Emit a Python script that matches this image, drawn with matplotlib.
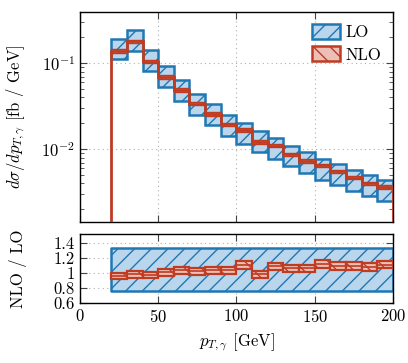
import numpy as np
import matplotlib
matplotlib.use("Agg")
import matplotlib.pyplot as plt
from matplotlib.patches import Patch

plt.rcParams.update({
    "font.family": "serif",
    "font.serif": ["cmr10", "DejaVu Serif"],
    "mathtext.fontset": "cm",
    "axes.formatter.use_mathtext": True,
    "axes.unicode_minus": False,
    "hatch.linewidth": 1.0,
})

# bin edges of the p_T,gamma histogram (GeV)
bin_edges = [20, 30, 40, 50, 60, 70, 80, 90, 100, 110,
             120, 130, 140, 150, 160, 170, 180, 190, 200]

# LO central value (fb/GeV) and relative scale band
lo = [0.145, 0.183, 0.107, 0.069, 0.0474, 0.033, 0.0249, 0.0188, 0.0151,
      0.0123, 0.0101, 0.00824, 0.0069, 0.0058, 0.00503, 0.00426, 0.00372, 0.00326]
lo_rel_up = [1.333] * 18
lo_rel_dn = [0.765] * 18

# NLO central value (fb/GeV) and relative scale band
nlo = [0.139, 0.180, 0.1045, 0.0696, 0.0491, 0.0339, 0.0258, 0.01946, 0.01669,
       0.01212, 0.01101, 0.00875, 0.00733, 0.0065, 0.00552, 0.00467, 0.00402, 0.00363]
nlo_rel_up = [1.045] * 18
nlo_rel_dn = [0.955] * 18

edges = np.array(bin_edges, dtype=float)
lefts = edges[:-1]
widths = np.diff(edges)
lo = np.array(lo)
nlo = np.array(nlo)
lo_up = lo * np.array(lo_rel_up)
lo_dn = lo * np.array(lo_rel_dn)
nlo_up = nlo * np.array(nlo_rel_up)
nlo_dn = nlo * np.array(nlo_rel_dn)

blue = "#1f77b4"
blue_fill = "#b9d6ec"
red = "#bf3b22"
red_fill = "#ecc0b6"

fig = plt.figure(figsize=(4.08, 3.63), dpi=100)
ax = fig.add_axes([0.196, 0.388, 0.767, 0.579])
ax2 = fig.add_axes([0.196, 0.164, 0.767, 0.191])

# main panel
ax.bar(lefts, lo_up - lo_dn, bottom=lo_dn, width=widths, align="edge",
       facecolor=blue_fill, edgecolor=blue, hatch="//", linewidth=1.8, zorder=2)
ax.bar(lefts, nlo_up - nlo_dn, bottom=nlo_dn, width=widths, align="edge",
       facecolor=red_fill, edgecolor=red, hatch="\\\\", linewidth=1.0, zorder=3)
ax.stairs(nlo, edges, baseline=1e-6, color=red, linewidth=2.0, zorder=4)

ax.set_yscale("log")
ax.set_xlim(0, 200)
ax.set_ylim(1.42e-3, 0.395)
ax.set_ylabel(r"$d\sigma/dp_{T,\gamma}$ [fb / GeV]", fontsize=12)
ax.tick_params(labelbottom=False)

leg_handles = [
    Patch(facecolor=blue_fill, edgecolor=blue, hatch="//", linewidth=1.8),
    Patch(facecolor=red_fill, edgecolor=red, hatch="\\\\", linewidth=1.8),
]
ax.legend(leg_handles, ["LO", "NLO"], loc="upper right", frameon=False,
          fontsize=12, handlelength=1.7, handleheight=1.0,
          borderaxespad=0.3, labelspacing=0.4, handletextpad=0.3)

# ratio panel
ratio_up = np.append(lo_up / lo, lo_up[-1] / lo[-1])
ratio_dn = np.append(lo_dn / lo, lo_dn[-1] / lo[-1])
ax2.fill_between(edges, ratio_dn, ratio_up, step="post",
                 facecolor=blue_fill, edgecolor=blue, hatch="//",
                 linewidth=1.8, zorder=2)
ax2.bar(lefts, (nlo_up - nlo_dn) / lo, bottom=nlo_dn / lo, width=widths,
        align="edge", facecolor=red_fill, edgecolor=red, hatch="\\\\",
        linewidth=1.6, zorder=3)
ax2.stairs(nlo / lo, edges, baseline=None, color=red, linewidth=1.2, zorder=4)

ax2.set_xlim(0, 200)
ax2.set_ylim(0.595, 1.52)
ax2.set_yticks([0.6, 0.8, 1.0, 1.2, 1.4])
ax2.set_yticklabels(["0.6", "0.8", "1", "1.2", "1.4"])
ax2.set_xticks([0, 50, 100, 150, 200])
ax2.set_ylabel("NLO / LO", fontsize=12)
ax2.set_xlabel(r"$p_{T,\gamma}$ [GeV]", fontsize=12)

for a in (ax, ax2):
    a.set_xticks([0, 50, 100, 150, 200])
    a.grid(True, which="major", linestyle=(0, (1, 3)), color="#b0b0b0",
           linewidth=0.8, zorder=0)
    a.tick_params(which="both", direction="in", top=True, right=True,
                  labelsize=12, color="#444444")
    a.tick_params(which="major", length=5)
    a.tick_params(which="minor", length=3)
    a.yaxis.set_label_coords(-0.17, 0.5)
    for s in a.spines.values():
        s.set_linewidth(1.0)

fig.savefig("out.png", dpi=100)
